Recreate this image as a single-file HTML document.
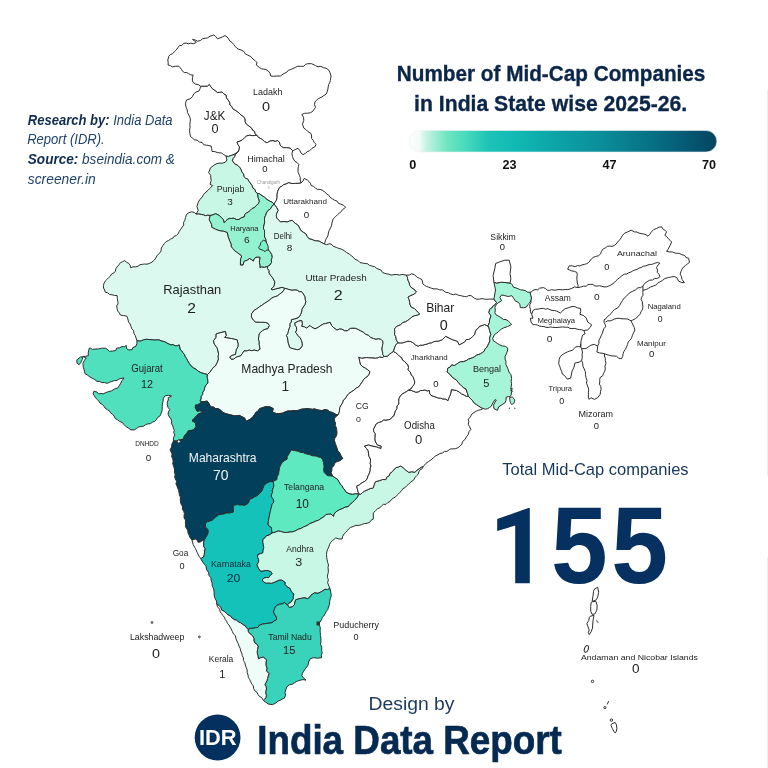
<!DOCTYPE html>
<html><head><meta charset="utf-8"><style>
html,body{margin:0;padding:0;background:#fff;}
body{width:768px;height:768px;overflow:hidden;position:relative;}
svg{position:absolute;left:0;top:0;will-change:transform;}
.st{stroke:#2b2b2b;stroke-width:1;stroke-linejoin:round;}
.ln{fill:none;stroke:#2b2b2b;stroke-width:1;stroke-linejoin:round;}
text{font-family:"Liberation Sans",sans-serif;}
</style></head><body>
<svg width="768" height="768" viewBox="0 0 768 768">
<defs><linearGradient id="g" x1="0" x2="1" y1="0" y2="0"><stop offset="0" stop-color="#ffffff"/><stop offset="0.035" stop-color="#f0fbf7"/><stop offset="0.055" stop-color="#c6f3e4"/><stop offset="0.123" stop-color="#6ee6c0"/><stop offset="0.188" stop-color="#45d9bd"/><stop offset="0.256" stop-color="#1ec3b6"/><stop offset="0.324" stop-color="#13bcb4"/><stop offset="0.39" stop-color="#10b2b0"/><stop offset="0.46" stop-color="#0da6a9"/><stop offset="0.62" stop-color="#0b8e9b"/><stop offset="0.75" stop-color="#08778a"/><stop offset="0.88" stop-color="#065e79"/><stop offset="1" stop-color="#05445f"/></linearGradient></defs>
<path class="st" fill="#ffffff" d="M200.6 86.3 L200.0 88.8 L198.8 91.2 L196.0 92.0 L193.8 93.8 L192.4 96.7 L190.0 98.8 L186.5 100.0 L185.7 102.4 L185.6 105.0 L186.2 107.5 L187.2 109.9 L187.5 112.5 L189.4 116.2 L190.4 118.9 L190.2 121.7 L189.8 124.6 L190.1 127.5 L189.4 130.3 L189.9 133.5 L190.5 136.6 L192.4 138.0 L194.1 139.7 L197.1 140.2 L199.5 142.0 L202.1 142.5 L203.9 144.8 L206.6 145.2 L208.9 145.6 L211.2 146.0 L211.6 148.7 L212.0 151.4 L214.8 151.6 L217.5 152.6 L221.4 153.0 L223.7 154.6 L226.1 156.1 L228.4 156.5 L230.7 155.6 L233.1 154.9 L236.2 153.4 L238.6 151.2 L239.3 149.0 L239.4 146.7 L237.9 144.5 L237.0 142.0 L240.0 141.2 L242.5 139.8 L244.5 137.8 L246.8 135.9 L249.7 135.2 L252.1 135.7 L254.6 135.5 L257.0 135.3 L255.1 133.9 L254.7 131.4 L252.6 130.2 L251.7 128.1 L249.1 126.1 L246.5 124.2 L245.2 121.8 L245.2 119.0 L243.6 116.5 L241.0 115.0 L239.2 113.1 L237.2 111.5 L235.0 110.0 L232.8 108.8 L231.8 106.5 L230.0 105.0 L229.7 102.2 L228.1 100.0 L226.5 97.8 L226.2 95.0 L223.8 93.8 L221.9 91.9 L219.7 92.3 L217.5 92.5 L215.1 90.5 L212.5 88.8 L210.8 86.7 L209.4 84.4 L207.5 86.0 L205.0 86.2 L202.8 86.1 L200.6 86.3Z"/>
<path class="st" fill="#ffffff" d="M200.6 86.3 L198.3 84.6 L195.5 84.1 L193.1 82.5 L192.3 80.1 L192.5 77.5 L193.1 75.0 L190.8 74.9 L188.8 73.8 L186.8 72.5 L184.4 72.5 L182.5 71.2 L181.4 69.3 L180.0 67.5 L178.8 66.2 L175.6 66.2 L172.5 66.9 L170.4 65.6 L168.1 65.0 L168.2 62.5 L167.8 60.0 L168.8 56.2 L170.3 54.5 L172.5 53.8 L174.3 51.8 L176.2 50.0 L177.8 47.8 L179.4 45.6 L181.9 45.4 L183.7 43.3 L186.2 43.1 L188.5 43.8 L190.9 43.1 L193.1 43.8 L196.2 42.5 L194.5 40.8 L192.5 39.4 L195.1 40.0 L197.5 41.2 L200.3 40.6 L202.5 38.8 L205.1 38.3 L207.7 37.8 L210.0 36.2 L213.8 35.0 L215.8 36.7 L217.5 38.8 L220.0 37.9 L222.5 36.9 L225.0 35.6 L227.2 37.0 L228.7 39.0 L230.0 41.2 L232.0 42.5 L233.6 44.4 L235.0 46.2 L236.7 48.1 L238.8 49.3 L241.2 50.0 L243.7 51.4 L245.3 53.9 L247.8 55.2 L250.8 56.6 L253.0 59.1 L255.1 60.6 L256.9 62.4 L256.3 65.0 L259.5 67.6 L261.5 68.7 L263.7 69.2 L266.0 69.5 L268.1 71.1 L270.0 72.8 L270.6 76.0 L273.6 76.3 L276.5 76.0 L280.4 76.0 L283.0 74.1 L286.9 72.1 L288.5 70.2 L290.8 69.5 L293.0 68.5 L295.2 67.5 L297.3 66.3 L300.6 66.3 L303.8 66.3 L305.4 64.5 L307.7 63.7 L311.6 63.7 L315.5 65.6 L318.0 66.8 L320.9 66.3 L323.3 67.6 L326.0 68.2 L328.4 69.7 L329.8 72.1 L331.1 76.0 L330.7 78.2 L330.3 80.4 L329.8 82.6 L328.7 84.6 L328.2 86.8 L327.9 89.1 L327.2 91.8 L326.0 94.3 L323.9 95.5 L322.0 96.9 L318.1 98.8 L316.3 100.3 L314.9 102.1 L314.6 104.8 L315.5 107.3 L314.2 109.2 L312.9 111.2 L310.5 112.7 L307.7 113.2 L304.6 113.3 L301.8 114.5 L303.5 117.2 L303.8 120.3 L302.5 124.2 L303.8 128.1 L305.9 129.6 L307.7 131.4 L311.0 133.5 L311.6 136.0 L311.6 138.5 L313.2 140.3 L314.2 142.4 L316.1 144.3 L314.8 146.9 L311.9 148.4 L309.6 150.8 L307.2 151.7 L305.3 153.4 L303.1 154.7 L300.9 152.9 L299.7 150.3 L297.9 148.2 L295.3 149.6 L292.7 150.8 L290.1 148.2 L286.2 147.6 L283.6 147.8 L281.3 146.5 L279.9 144.7 L279.4 142.2 L277.5 140.7 L275.2 141.4 L273.0 140.7 L269.8 141.1 L267.0 142.8 L264.6 141.7 L262.8 139.8 L260.5 138.5 L258.3 137.4 L257.0 135.3 L255.1 133.9 L254.7 131.4 L252.6 130.2 L251.7 128.1 L249.1 126.1 L246.5 124.2 L245.2 121.8 L245.2 119.0 L243.6 116.5 L241.0 115.0 L239.2 113.1 L237.2 111.5 L235.0 110.0 L232.8 108.8 L231.8 106.5 L230.0 105.0 L229.7 102.2 L228.1 100.0 L226.5 97.8 L226.2 95.0 L223.8 93.8 L221.9 91.9 L219.7 92.3 L217.5 92.5 L215.1 90.5 L212.5 88.8 L210.8 86.7 L209.4 84.4 L207.5 86.0 L205.0 86.2 L202.8 86.1 L200.6 86.3Z"/>
<path class="st" fill="#ffffff" d="M238.6 151.2 L239.3 149.0 L239.4 146.7 L237.9 144.5 L237.0 142.0 L240.0 141.2 L242.5 139.8 L244.5 137.8 L246.8 135.9 L249.7 135.2 L252.1 135.7 L254.6 135.5 L257.0 135.3 L258.3 137.4 L260.5 138.5 L262.8 139.8 L264.6 141.7 L267.0 142.8 L269.8 141.1 L273.0 140.7 L275.2 141.4 L277.5 140.7 L279.4 142.2 L279.9 144.7 L281.3 146.5 L283.6 147.8 L286.2 147.6 L290.1 148.2 L292.7 150.8 L291.9 153.7 L292.5 156.6 L293.4 159.0 L294.8 161.2 L297.0 162.5 L298.8 164.4 L298.3 166.7 L298.0 169.0 L298.1 172.3 L299.5 175.3 L300.2 177.6 L300.3 180.0 L301.0 183.0 L298.2 183.4 L295.3 183.4 L292.0 183.6 L288.8 182.7 L286.3 183.9 L283.6 184.7 L281.8 186.3 L279.7 187.3 L277.7 191.2 L277.1 194.4 L277.1 197.7 L276.4 200.3 L275.2 202.2 L274.0 204.0 L272.1 202.2 L269.8 201.2 L267.0 199.5 L264.6 197.3 L262.0 195.7 L259.5 193.8 L257.5 193.4 L255.6 192.0 L254.9 189.5 L252.9 188.2 L251.9 185.5 L250.3 183.0 L248.8 181.2 L247.7 179.1 L245.5 178.2 L243.8 176.5 L243.6 174.1 L241.9 172.2 L241.2 170.0 L240.0 167.8 L237.7 165.4 L234.7 163.9 L232.3 160.8 L233.1 158.4 L234.6 156.7 L235.3 154.4 L237.0 152.8 L238.6 151.2Z"/>
<path class="st" fill="#c8f7e6" d="M226.1 156.1 L226.9 160.0 L225.3 162.3 L222.2 163.2 L219.0 163.1 L216.1 163.9 L213.6 165.5 L210.5 167.8 L209.7 170.0 L208.6 172.6 L210.6 175.2 L210.8 177.8 L211.2 180.4 L210.0 184.3 L212.6 185.6 L210.0 188.2 L208.1 190.2 L206.0 192.1 L203.6 194.4 L202.1 197.3 L199.7 199.6 L198.2 202.5 L196.9 206.4 L198.2 210.3 L196.9 212.9 L196.3 214.2 L198.7 214.0 L201.1 214.4 L203.4 214.9 L205.5 215.7 L207.8 215.2 L210.0 215.5 L212.9 214.9 L215.6 213.7 L219.5 215.6 L221.3 217.7 L223.4 219.5 L224.1 222.8 L225.7 221.1 L227.3 219.5 L229.4 218.4 L231.7 218.5 L233.9 218.2 L236.3 219.5 L239.0 219.5 L241.4 217.7 L244.3 216.9 L244.8 214.6 L246.4 212.9 L248.6 212.0 L250.3 210.3 L252.0 208.6 L254.2 207.7 L256.8 205.1 L258.6 203.5 L259.4 201.2 L258.1 197.3 L257.5 193.4 L255.6 192.0 L254.9 189.5 L252.9 188.2 L251.9 185.5 L250.3 183.0 L248.8 181.2 L247.7 179.1 L245.5 178.2 L243.8 176.5 L243.6 174.1 L241.9 172.2 L241.2 170.0 L240.0 167.8 L237.7 165.4 L234.7 163.9 L232.3 160.8 L233.1 158.4 L234.6 156.7 L235.3 154.4 L237.0 152.8 L238.6 151.2 L236.2 153.4 L233.1 154.9 L230.7 155.6 L228.4 156.5 L226.1 156.1Z"/>
<path class="st" fill="#94f2d1" d="M257.5 193.4 L258.1 197.3 L259.4 201.2 L258.6 203.5 L256.8 205.1 L254.2 207.7 L252.0 208.6 L250.3 210.3 L248.6 212.0 L246.4 212.9 L244.8 214.6 L244.3 216.9 L241.4 217.7 L239.0 219.5 L236.3 219.5 L233.9 218.2 L231.7 218.5 L229.4 218.4 L227.3 219.5 L225.7 221.1 L224.1 222.8 L223.4 219.5 L221.3 217.7 L219.5 215.6 L215.6 213.7 L212.9 214.9 L210.0 215.5 L209.1 219.5 L210.4 222.1 L211.6 224.6 L211.7 227.3 L215.6 229.3 L218.1 230.3 L220.7 231.0 L223.4 231.2 L227.3 232.6 L228.0 236.5 L229.0 239.1 L230.0 241.7 L231.1 244.2 L231.2 246.9 L233.0 248.6 L234.5 250.7 L236.5 252.1 L239.1 254.0 L241.7 256.0 L240.7 258.5 L240.4 261.2 L240.4 265.1 L243.0 265.1 L244.3 261.2 L247.1 260.3 L249.5 258.6 L251.6 259.7 L253.4 261.2 L254.2 258.9 L256.0 257.3 L259.9 257.3 L259.6 259.9 L259.4 262.5 L259.9 265.1 L259.9 267.7 L261.2 267.0 L264.5 267.4 L267.7 266.4 L270.1 264.9 L271.6 262.5 L271.3 259.8 L272.3 257.3 L271.8 254.5 L270.3 252.1 L267.8 249.1 L266.5 246.2 L266.5 243.0 L265.8 239.1 L264.7 237.1 L264.5 234.8 L264.5 232.6 L264.5 230.4 L263.4 228.3 L263.8 226.0 L264.6 222.8 L264.5 219.5 L264.7 217.2 L265.8 215.2 L266.4 213.0 L267.9 210.6 L270.3 209.1 L272.0 206.4 L274.0 204.0 L272.1 202.2 L269.8 201.2 L267.0 199.5 L264.6 197.3 L262.0 195.7 L259.5 193.8 L257.5 193.4Z"/>
<path class="st" fill="#ffffff" d="M301.0 183.0 L303.0 181.0 L304.2 178.4 L307.3 180.0 L309.0 181.5 L310.4 183.3 L311.2 185.5 L313.6 186.3 L315.4 188.2 L317.5 189.4 L319.9 189.4 L322.2 190.2 L324.7 191.9 L326.9 194.0 L328.8 195.3 L330.0 197.2 L332.3 198.8 L334.7 200.3 L337.1 201.1 L338.5 203.4 L340.9 204.2 L343.6 205.3 L345.6 207.3 L342.5 209.7 L341.3 211.6 L339.5 213.0 L337.8 214.4 L335.5 216.7 L333.1 219.0 L332.1 222.1 L331.6 225.3 L330.6 227.9 L329.2 230.4 L328.4 233.1 L327.9 235.9 L326.4 238.3 L325.3 240.9 L324.5 244.0 L321.1 242.3 L319.0 241.1 L316.6 240.9 L314.3 240.6 L311.9 239.4 L309.2 238.9 L307.2 236.6 L305.9 233.9 L303.3 232.3 L300.8 230.5 L299.1 227.1 L297.8 225.0 L295.7 223.7 L293.8 222.2 L292.3 220.3 L289.7 221.0 L287.2 222.0 L284.0 221.5 L280.5 222.0 L278.7 220.1 L276.8 218.2 L276.2 215.6 L276.8 213.0 L278.1 210.4 L276.8 207.8 L275.4 205.9 L274.0 204.0 L275.2 202.2 L276.4 200.3 L277.1 197.7 L277.1 194.4 L277.7 191.2 L279.7 187.3 L281.8 186.3 L283.6 184.7 L286.3 183.9 L288.8 182.7 L292.0 183.6 L295.3 183.4 L298.2 183.4 L301.0 183.0Z"/>
<path class="st" fill="#dcf9ef" d="M196.3 214.2 L194.2 212.4 L191.6 211.8 L188.9 212.7 L186.5 214.4 L185.6 217.3 L184.8 220.3 L183.6 222.4 L183.7 225.1 L182.2 227.1 L180.6 229.3 L179.2 231.5 L178.0 233.9 L176.4 235.5 L174.2 236.2 L172.9 238.1 L170.6 239.1 L168.5 240.6 L166.2 241.5 L164.4 243.5 L162.8 245.7 L161.3 248.0 L161.1 250.8 L160.0 252.7 L158.3 254.2 L156.9 255.9 L155.7 258.1 L154.3 260.1 L152.0 262.1 L149.2 263.5 L147.0 264.2 L144.7 264.0 L142.5 264.3 L140.0 264.7 L138.0 266.2 L135.7 266.9 L133.1 266.8 L130.6 267.7 L130.2 265.4 L128.9 263.5 L126.7 262.3 L124.7 260.6 L122.6 261.7 L120.5 262.6 L118.9 264.8 L117.1 266.9 L115.8 268.8 L115.4 271.1 L113.9 273.0 L111.5 274.0 L110.3 276.2 L108.5 277.8 L106.9 279.5 L105.2 281.2 L104.0 283.3 L103.4 285.6 L103.5 288.0 L104.7 290.0 L105.2 292.2 L107.6 292.7 L109.5 294.4 L112.0 294.8 L114.5 295.4 L117.1 295.6 L117.3 298.6 L117.9 301.6 L118.0 303.9 L116.6 306.0 L117.1 308.3 L117.6 310.9 L119.3 312.9 L120.5 315.1 L123.7 315.6 L126.8 316.1 L127.9 319.0 L128.5 322.0 L130.1 324.0 L131.0 326.4 L131.8 328.8 L133.6 330.7 L133.9 333.3 L135.2 335.5 L136.1 338.0 L136.9 340.6 L139.3 341.1 L141.5 340.8 L143.7 339.8 L146.5 339.3 L149.4 339.6 L152.2 339.8 L154.4 340.0 L156.7 340.0 L158.9 339.8 L161.1 340.9 L163.4 341.4 L165.7 342.3 L168.2 343.7 L170.8 344.9 L173.1 344.7 L175.2 345.8 L177.5 345.7 L179.2 344.9 L180.1 349.1 L181.5 350.8 L182.7 352.6 L184.3 354.2 L185.1 356.6 L186.6 358.6 L187.7 360.9 L189.3 363.5 L191.1 366.0 L193.5 367.9 L196.2 369.4 L198.5 371.4 L201.2 372.8 L204.3 373.7 L207.5 374.5 L209.9 372.3 L211.8 369.6 L213.2 367.6 L215.2 366.2 L216.7 363.8 L217.8 361.1 L218.5 358.9 L218.1 356.5 L218.6 354.3 L218.2 352.0 L217.7 349.7 L216.9 347.5 L214.4 344.2 L213.5 340.8 L216.1 337.4 L216.1 334.0 L218.6 333.2 L222.0 332.3 L225.4 331.5 L226.2 335.7 L224.5 337.4 L228.8 338.2 L231.4 338.5 L233.9 339.1 L237.2 339.9 L238.1 344.2 L237.9 346.9 L236.4 349.2 L235.8 351.7 L235.5 354.3 L232.2 355.2 L229.6 356.9 L231.3 359.4 L233.7 359.2 L235.5 357.7 L237.9 356.5 L240.6 356.0 L242.4 353.5 L244.0 350.9 L246.6 351.0 L249.1 350.1 L251.6 350.7 L254.2 350.1 L257.5 350.9 L260.1 349.2 L259.7 346.7 L259.2 344.2 L259.3 341.6 L258.4 339.1 L259.0 336.6 L259.2 334.0 L260.7 332.1 L262.6 330.6 L265.0 329.3 L267.7 328.9 L269.4 325.5 L267.7 323.0 L265.2 322.4 L262.6 322.2 L260.4 322.3 L258.1 322.0 L255.9 322.2 L254.0 320.7 L252.5 318.8 L251.4 316.4 L251.6 313.7 L254.2 310.3 L256.9 308.8 L259.2 306.9 L261.8 305.3 L264.3 303.5 L266.9 301.9 L269.4 300.2 L271.7 298.2 L274.5 296.8 L277.3 296.0 L279.6 294.2 L282.9 291.7 L285.0 288.3 L282.0 287.3 L278.1 288.3 L275.4 288.9 L272.9 289.8 L271.0 289.2 L272.7 287.7 L274.2 285.9 L274.9 282.0 L272.9 278.1 L270.8 275.6 L269.0 272.9 L269.2 270.6 L267.5 268.7 L267.7 266.4 L264.5 267.4 L261.2 267.0 L259.9 267.7 L259.9 265.1 L259.4 262.5 L259.6 259.9 L259.9 257.3 L256.0 257.3 L254.2 258.9 L253.4 261.2 L251.6 259.7 L249.5 258.6 L247.1 260.3 L244.3 261.2 L243.0 265.1 L240.4 265.1 L240.4 261.2 L240.7 258.5 L241.7 256.0 L239.1 254.0 L236.5 252.1 L234.5 250.7 L233.0 248.6 L231.2 246.9 L231.1 244.2 L230.0 241.7 L229.0 239.1 L228.0 236.5 L227.3 232.6 L223.4 231.2 L220.7 231.0 L218.1 230.3 L215.6 229.3 L211.7 227.3 L211.6 224.6 L210.4 222.1 L209.1 219.5 L210.0 215.5 L207.8 215.2 L205.5 215.7 L203.4 214.9 L201.1 214.4 L198.7 214.0 L196.3 214.2Z"/>
<path class="st" fill="#dcf9ef" d="M274.0 204.0 L275.4 205.9 L276.8 207.8 L278.1 210.4 L276.8 213.0 L276.2 215.6 L276.8 218.2 L278.7 220.1 L280.5 222.0 L284.0 221.5 L287.2 222.0 L289.7 221.0 L292.3 220.3 L293.8 222.2 L295.7 223.7 L297.8 225.0 L299.1 227.1 L300.8 230.5 L303.3 232.3 L305.9 233.9 L307.2 236.6 L309.2 238.9 L311.9 239.4 L314.3 240.6 L316.6 240.9 L319.0 241.1 L321.1 242.3 L324.5 244.0 L326.7 244.7 L329.0 243.8 L331.2 244.0 L333.3 246.3 L336.3 247.4 L338.8 248.4 L341.4 249.1 L344.1 250.6 L346.5 252.5 L349.2 254.0 L351.6 255.9 L353.4 257.4 L354.9 259.2 L357.8 260.4 L360.0 262.6 L362.6 263.0 L365.1 263.5 L367.6 263.8 L369.5 265.4 L371.9 266.0 L374.7 266.7 L376.9 268.6 L380.9 270.0 L382.6 272.5 L384.7 273.3 L386.8 273.9 L389.0 274.2 L391.1 275.1 L393.9 274.6 L396.8 274.5 L399.6 275.1 L401.8 274.4 L404.1 274.8 L406.3 275.1 L407.5 277.5 L408.0 280.2 L409.2 282.6 L409.7 285.2 L411.0 287.3 L413.1 288.6 L415.0 290.1 L416.5 292.0 L414.8 293.7 L412.6 294.9 L410.2 295.9 L408.0 297.1 L409.1 299.6 L409.7 302.2 L410.1 304.8 L411.4 307.2 L414.3 308.4 L416.5 310.6 L418.1 312.4 L419.9 314.0 L417.5 315.2 L414.8 315.7 L411.9 316.9 L409.7 319.1 L407.6 320.5 L405.4 321.9 L402.9 322.5 L400.7 324.7 L397.9 325.9 L395.8 327.1 L394.5 329.2 L394.9 331.8 L394.5 334.3 L395.8 336.7 L396.2 339.4 L397.9 342.8 L395.7 345.0 L394.5 347.9 L393.5 351.5 L391.4 352.9 L389.3 354.3 L387.7 356.3 L384.3 356.5 L382.6 354.6 L382.6 352.3 L381.9 350.2 L381.8 347.9 L382.4 345.7 L382.8 343.4 L382.6 341.1 L380.9 339.4 L378.4 338.8 L375.9 339.4 L373.4 338.5 L370.8 337.7 L368.6 335.4 L365.7 334.3 L363.4 332.3 L360.6 330.9 L358.1 329.5 L355.5 328.4 L353.0 328.3 L350.5 328.4 L347.1 330.9 L344.3 330.7 L342.0 329.2 L339.4 329.1 L336.9 330.1 L333.5 327.5 L331.4 325.3 L330.2 322.5 L328.0 322.9 L325.8 323.5 L323.6 323.9 L320.9 325.4 L318.5 327.2 L315.1 328.9 L311.7 327.2 L310.0 325.5 L306.6 328.1 L304.3 326.8 L301.6 326.4 L302.4 323.9 L301.6 320.5 L298.2 321.3 L294.8 323.0 L295.2 325.3 L296.5 327.2 L296.7 329.9 L295.6 332.3 L298.2 335.7 L300.3 338.0 L301.6 340.8 L302.3 343.3 L302.4 345.9 L299.9 349.2 L297.4 349.7 L294.8 349.2 L292.2 348.6 L289.7 347.5 L288.8 345.0 L288.0 342.5 L287.7 340.2 L287.5 337.8 L286.3 335.7 L287.6 333.6 L288.3 331.3 L288.9 328.9 L290.0 326.5 L289.7 323.9 L291.2 322.0 L291.4 319.6 L294.8 318.8 L297.0 318.2 L299.0 317.1 L300.5 314.6 L301.6 312.0 L301.9 309.3 L303.3 306.9 L304.9 304.5 L305.8 301.8 L305.1 299.3 L304.9 296.8 L303.4 294.1 L301.6 291.7 L299.2 291.7 L297.2 290.2 L294.8 290.0 L291.8 290.3 L288.9 289.5 L285.0 288.3 L282.0 287.3 L278.1 288.3 L275.4 288.9 L272.9 289.8 L271.0 289.2 L272.7 287.7 L274.2 285.9 L274.9 282.0 L272.9 278.1 L270.8 275.6 L269.0 272.9 L269.2 270.6 L267.5 268.7 L267.7 266.4 L270.1 264.9 L271.6 262.5 L271.3 259.8 L272.3 257.3 L271.8 254.5 L270.3 252.1 L267.8 249.1 L266.5 246.2 L266.5 243.0 L265.8 239.1 L264.7 237.1 L264.5 234.8 L264.5 232.6 L264.5 230.4 L263.4 228.3 L263.8 226.0 L264.6 222.8 L264.5 219.5 L264.7 217.2 L265.8 215.2 L266.4 213.0 L267.9 210.6 L270.3 209.1 L272.0 206.4 L274.0 204.0Z"/>
<path class="st" fill="#50e0be" d="M136.9 340.6 L136.9 343.4 L136.0 346.1 L132.6 347.8 L132.0 349.8 L128.2 349.8 L126.7 348.6 L126.3 345.5 L124.3 346.7 L122.0 346.6 L119.4 347.8 L116.5 348.2 L115.8 350.5 L112.6 351.0 L109.5 351.3 L107.9 349.8 L105.6 348.2 L101.7 348.2 L98.6 348.9 L95.4 349.0 L92.3 349.4 L90.8 348.2 L89.2 348.2 L88.8 350.2 L88.2 352.9 L88.4 355.6 L85.3 356.4 L82.9 356.4 L86.1 358.0 L84.5 360.3 L82.9 363.4 L83.3 367.3 L84.5 371.2 L84.9 373.6 L87.6 375.2 L89.8 376.9 L92.3 378.3 L94.8 379.6 L97.0 381.4 L99.5 381.4 L101.7 382.6 L104.5 382.5 L107.2 383.4 L109.5 382.2 L111.9 381.5 L114.2 380.6 L116.8 380.5 L118.9 379.1 L122.0 378.3 L124.0 377.9 L122.0 380.6 L120.4 383.8 L119.2 385.7 L118.1 387.7 L114.2 389.2 L111.6 390.8 L108.7 391.6 L105.9 392.5 L103.2 393.9 L100.9 393.4 L98.6 393.9 L97.0 392.0 L93.9 391.2 L93.1 393.9 L94.4 395.7 L95.4 397.7 L97.1 399.4 L98.8 401.1 L100.1 403.2 L102.3 404.4 L103.9 406.2 L105.2 408.2 L107.2 409.6 L109.3 410.8 L110.6 412.9 L112.6 414.3 L114.1 416.2 L115.2 418.5 L117.4 419.7 L119.6 421.5 L122.4 422.5 L124.2 424.8 L126.2 426.8 L128.7 428.2 L130.9 429.9 L134.3 429.9 L136.5 428.6 L138.5 427.0 L141.1 426.5 L143.6 426.3 L145.6 424.6 L147.9 423.9 L150.4 423.7 L152.4 422.2 L154.6 421.4 L156.4 419.8 L157.5 417.5 L159.7 416.3 L160.8 414.2 L161.7 411.9 L162.2 409.6 L162.2 406.7 L162.4 403.9 L163.1 401.1 L163.3 398.3 L164.8 396.0 L168.2 395.2 L171.6 396.0 L168.2 397.7 L168.3 400.0 L167.2 402.2 L167.3 404.5 L168.0 407.4 L169.9 409.6 L168.3 411.9 L168.2 414.6 L169.3 416.9 L171.0 418.9 L171.6 421.4 L171.6 423.8 L172.9 425.9 L173.3 428.2 L174.3 430.3 L173.7 432.8 L174.9 434.9 L173.6 437.3 L173.3 440.0 L173.5 441.0 L176.6 441.0 L180.2 439.9 L183.5 439.1 L184.1 436.8 L185.2 434.8 L186.9 433.2 L188.6 430.6 L191.2 430.4 L193.7 429.8 L196.2 426.4 L195.4 423.0 L192.0 420.5 L193.9 419.0 L195.4 417.1 L197.0 415.3 L198.8 413.7 L201.4 413.0 L203.9 412.0 L202.2 411.2 L199.6 410.7 L197.1 411.2 L195.4 407.8 L195.4 405.2 L197.7 404.9 L199.6 403.5 L201.6 402.3 L203.9 401.8 L200.0 401.0 L201.2 398.9 L201.2 396.5 L202.7 394.6 L202.9 392.2 L204.3 390.3 L204.6 388.0 L205.9 385.2 L208.0 382.9 L207.9 380.1 L207.2 377.3 L207.5 374.5 L204.3 373.7 L201.2 372.8 L198.5 371.4 L196.2 369.4 L193.5 367.9 L191.1 366.0 L189.3 363.5 L187.7 360.9 L186.6 358.6 L185.1 356.6 L184.3 354.2 L182.7 352.6 L181.5 350.8 L180.1 349.1 L179.2 344.9 L177.5 345.7 L175.2 345.8 L173.1 344.7 L170.8 344.9 L168.2 343.7 L165.7 342.3 L163.4 341.4 L161.1 340.9 L158.9 339.8 L156.7 340.0 L154.4 340.0 L152.2 339.8 L149.4 339.6 L146.5 339.3 L143.7 339.8 L141.5 340.8 L139.3 341.1 L136.9 340.6Z"/>
<path class="st" fill="#effdf8" d="M285.0 288.3 L282.9 291.7 L279.6 294.2 L277.3 296.0 L274.5 296.8 L271.7 298.2 L269.4 300.2 L266.9 301.9 L264.3 303.5 L261.8 305.3 L259.2 306.9 L256.9 308.8 L254.2 310.3 L251.6 313.7 L251.4 316.4 L252.5 318.8 L254.0 320.7 L255.9 322.2 L258.1 322.0 L260.4 322.3 L262.6 322.2 L265.2 322.4 L267.7 323.0 L269.4 325.5 L267.7 328.9 L265.0 329.3 L262.6 330.6 L260.7 332.1 L259.2 334.0 L259.0 336.6 L258.4 339.1 L259.3 341.6 L259.2 344.2 L259.7 346.7 L260.1 349.2 L257.5 350.9 L254.2 350.1 L251.6 350.7 L249.1 350.1 L246.6 351.0 L244.0 350.9 L242.4 353.5 L240.6 356.0 L237.9 356.5 L235.5 357.7 L233.7 359.2 L231.3 359.4 L229.6 356.9 L232.2 355.2 L235.5 354.3 L235.8 351.7 L236.4 349.2 L237.9 346.9 L238.1 344.2 L237.2 339.9 L233.9 339.1 L231.4 338.5 L228.8 338.2 L224.5 337.4 L226.2 335.7 L225.4 331.5 L222.0 332.3 L218.6 333.2 L216.1 334.0 L216.1 337.4 L213.5 340.8 L214.4 344.2 L216.9 347.5 L217.7 349.7 L218.2 352.0 L218.6 354.3 L218.1 356.5 L218.5 358.9 L217.8 361.1 L216.7 363.8 L215.2 366.2 L213.2 367.6 L211.8 369.6 L209.9 372.3 L207.5 374.5 L207.2 377.3 L207.9 380.1 L208.0 382.9 L205.9 385.2 L204.6 388.0 L204.3 390.3 L202.9 392.2 L202.7 394.6 L201.2 396.5 L201.2 398.9 L200.0 401.0 L203.9 401.8 L207.2 401.0 L208.9 403.5 L210.6 406.9 L213.4 407.1 L215.7 408.6 L218.5 408.8 L220.8 410.3 L223.0 412.5 L225.9 413.7 L228.1 414.3 L230.4 414.8 L232.6 415.4 L234.9 415.9 L237.1 415.8 L239.4 415.4 L241.9 416.7 L244.5 417.9 L246.2 421.3 L249.6 419.6 L252.9 417.1 L254.5 414.5 L256.3 412.0 L258.4 410.7 L259.7 408.6 L262.3 407.8 L264.8 406.9 L267.4 406.7 L269.9 406.9 L273.2 408.6 L272.4 412.0 L274.5 412.9 L276.6 413.7 L280.0 413.5 L282.7 413.1 L285.1 412.0 L287.7 411.0 L290.5 411.0 L293.3 410.7 L296.1 410.8 L298.9 410.2 L301.7 409.2 L304.5 408.9 L307.4 408.5 L309.9 409.0 L312.5 409.3 L314.8 408.9 L317.0 409.9 L319.2 410.2 L322.0 410.6 L324.9 409.6 L327.7 410.2 L330.0 411.9 L332.8 412.7 L335.3 414.1 L338.0 415.0 L339.1 412.7 L339.6 410.2 L339.8 407.5 L341.2 405.1 L342.7 402.7 L343.5 400.0 L345.4 398.6 L346.9 396.0 L348.8 393.6 L351.3 391.9 L353.9 390.2 L356.2 388.2 L358.9 386.8 L360.6 384.3 L362.3 381.7 L363.6 379.6 L365.3 377.9 L367.4 376.6 L369.1 374.3 L369.9 371.6 L367.8 369.8 L365.7 368.2 L363.0 366.8 L360.6 364.8 L359.8 361.4 L358.9 357.2 L361.3 358.3 L364.0 358.0 L366.3 357.6 L368.5 357.8 L370.8 358.0 L373.0 358.0 L375.3 358.3 L377.5 358.0 L379.7 357.0 L382.2 357.6 L384.3 356.5 L382.6 354.6 L382.6 352.3 L381.9 350.2 L381.8 347.9 L382.4 345.7 L382.8 343.4 L382.6 341.1 L380.9 339.4 L378.4 338.8 L375.9 339.4 L373.4 338.5 L370.8 337.7 L368.6 335.4 L365.7 334.3 L363.4 332.3 L360.6 330.9 L358.1 329.5 L355.5 328.4 L353.0 328.3 L350.5 328.4 L347.1 330.9 L344.3 330.7 L342.0 329.2 L339.4 329.1 L336.9 330.1 L333.5 327.5 L331.4 325.3 L330.2 322.5 L328.0 322.9 L325.8 323.5 L323.6 323.9 L320.9 325.4 L318.5 327.2 L315.1 328.9 L311.7 327.2 L310.0 325.5 L306.6 328.1 L304.3 326.8 L301.6 326.4 L302.4 323.9 L301.6 320.5 L298.2 321.3 L294.8 323.0 L295.2 325.3 L296.5 327.2 L296.7 329.9 L295.6 332.3 L298.2 335.7 L300.3 338.0 L301.6 340.8 L302.3 343.3 L302.4 345.9 L299.9 349.2 L297.4 349.7 L294.8 349.2 L292.2 348.6 L289.7 347.5 L288.8 345.0 L288.0 342.5 L287.7 340.2 L287.5 337.8 L286.3 335.7 L287.6 333.6 L288.3 331.3 L288.9 328.9 L290.0 326.5 L289.7 323.9 L291.2 322.0 L291.4 319.6 L294.8 318.8 L297.0 318.2 L299.0 317.1 L300.5 314.6 L301.6 312.0 L301.9 309.3 L303.3 306.9 L304.9 304.5 L305.8 301.8 L305.1 299.3 L304.9 296.8 L303.4 294.1 L301.6 291.7 L299.2 291.7 L297.2 290.2 L294.8 290.0 L291.8 290.3 L288.9 289.5 L285.0 288.3Z"/>
<path class="st" fill="#023f5a" d="M203.9 401.8 L201.6 402.3 L199.6 403.5 L197.7 404.9 L195.4 405.2 L195.4 407.8 L197.1 411.2 L199.6 410.7 L202.2 411.2 L203.9 412.0 L201.4 413.0 L198.8 413.7 L197.0 415.3 L195.4 417.1 L193.9 419.0 L192.0 420.5 L195.4 423.0 L196.2 426.4 L193.7 429.8 L191.2 430.4 L188.6 430.6 L186.9 433.2 L185.2 434.8 L184.1 436.8 L183.5 439.1 L180.2 439.9 L176.6 441.0 L173.5 441.0 L171.9 444.0 L171.6 446.9 L170.2 449.5 L171.0 451.8 L172.1 454.0 L171.6 456.6 L172.7 458.8 L173.2 461.0 L172.7 463.4 L173.4 465.6 L174.1 467.8 L174.6 470.1 L174.4 472.4 L175.2 474.6 L174.7 477.0 L175.4 479.2 L176.7 481.3 L175.9 483.8 L176.9 485.9 L177.7 488.1 L178.6 490.3 L179.0 492.6 L179.4 494.9 L180.4 497.1 L180.3 499.5 L180.5 502.0 L181.2 504.4 L182.5 506.6 L182.4 509.2 L183.7 511.4 L184.4 513.5 L184.0 515.8 L184.1 518.0 L185.5 520.1 L185.4 522.3 L185.6 524.5 L185.5 526.8 L186.8 528.8 L187.8 530.8 L188.0 533.0 L189.1 535.2 L190.0 537.5 L192.0 540.2 L195.2 539.0 L197.6 540.5 L197.9 542.3 L200.2 542.0 L202.6 540.5 L204.3 539.9 L206.1 537.0 L207.8 534.1 L208.4 530.5 L207.3 528.8 L205.5 527.0 L205.5 523.5 L207.3 521.8 L209.6 521.2 L212.5 520.0 L215.5 517.2 L218.9 514.7 L221.5 514.4 L224.0 513.9 L226.5 513.0 L229.1 513.0 L233.3 512.2 L233.3 509.9 L233.3 507.7 L233.3 505.4 L237.5 504.5 L239.7 505.0 L242.1 504.9 L244.3 505.4 L247.7 503.7 L249.0 501.8 L249.4 499.5 L252.1 498.4 L254.5 496.9 L257.3 495.6 L259.6 493.5 L261.7 491.3 L262.9 488.5 L264.0 485.6 L266.3 483.4 L269.7 481.7 L273.0 481.5 L276.9 479.6 L277.1 476.8 L278.6 474.5 L278.8 472.2 L279.2 470.0 L279.5 467.7 L280.7 465.1 L282.0 462.6 L284.4 460.7 L287.1 459.2 L287.3 456.5 L288.8 454.2 L290.0 452.0 L291.3 449.9 L295.5 450.8 L298.2 451.3 L300.6 452.5 L303.0 452.4 L305.1 453.6 L307.4 454.2 L309.7 454.6 L311.8 455.7 L314.2 455.9 L316.5 456.2 L318.6 457.1 L320.9 457.5 L322.7 459.8 L323.5 462.6 L323.8 464.9 L324.1 467.1 L323.5 469.4 L324.1 472.3 L326.0 474.5 L328.1 475.7 L330.5 475.9 L332.8 476.2 L331.1 472.8 L331.9 470.3 L331.9 467.7 L333.8 466.0 L334.5 463.5 L336.8 461.8 L339.6 460.9 L342.9 458.4 L341.2 455.9 L339.9 453.1 L337.9 450.8 L337.1 448.2 L336.2 445.7 L335.3 443.2 L334.5 440.6 L334.8 438.2 L336.2 436.2 L337.0 433.9 L336.9 431.0 L336.5 428.1 L335.3 425.4 L335.5 423.1 L334.6 420.9 L334.5 418.6 L336.0 416.5 L338.0 415.0 L335.3 414.1 L332.8 412.7 L330.0 411.9 L327.7 410.2 L324.9 409.6 L322.0 410.6 L319.2 410.2 L317.0 409.9 L314.8 408.9 L312.5 409.3 L309.9 409.0 L307.4 408.5 L304.5 408.9 L301.7 409.2 L298.9 410.2 L296.1 410.8 L293.3 410.7 L290.5 411.0 L287.7 411.0 L285.1 412.0 L282.7 413.1 L280.0 413.5 L276.6 413.7 L274.5 412.9 L272.4 412.0 L273.2 408.6 L269.9 406.9 L267.4 406.7 L264.8 406.9 L262.3 407.8 L259.7 408.6 L258.4 410.7 L256.3 412.0 L254.5 414.5 L252.9 417.1 L249.6 419.6 L246.2 421.3 L244.5 417.9 L241.9 416.7 L239.4 415.4 L237.1 415.8 L234.9 415.9 L232.6 415.4 L230.4 414.8 L228.1 414.3 L225.9 413.7 L223.0 412.5 L220.8 410.3 L218.5 408.8 L215.7 408.6 L213.4 407.1 L210.6 406.9 L208.9 403.5 L207.2 401.0 L203.9 401.8Z"/>
<path class="st" fill="#ffffff" d="M192.0 540.2 L195.2 539.0 L197.6 540.5 L197.9 542.3 L200.2 542.0 L202.6 540.5 L204.3 539.9 L203.7 542.3 L203.7 546.4 L205.2 548.7 L204.6 551.0 L204.3 554.6 L203.7 556.9 L201.4 558.1 L200.8 558.7 L199.1 556.3 L197.3 552.8 L195.5 548.7 L193.2 544.6 L192.0 540.2Z"/>
<path class="st" fill="#14c2ba" d="M200.8 558.7 L201.4 558.1 L203.7 556.9 L204.3 554.6 L204.6 551.0 L205.2 548.7 L203.7 546.4 L203.7 542.3 L204.3 539.9 L206.1 537.0 L207.8 534.1 L208.4 530.5 L207.3 528.8 L205.5 527.0 L205.5 523.5 L207.3 521.8 L209.6 521.2 L212.5 520.0 L215.5 517.2 L218.9 514.7 L221.5 514.4 L224.0 513.9 L226.5 513.0 L229.1 513.0 L233.3 512.2 L233.3 509.9 L233.3 507.7 L233.3 505.4 L237.5 504.5 L239.7 505.0 L242.1 504.9 L244.3 505.4 L247.7 503.7 L249.0 501.8 L249.4 499.5 L252.1 498.4 L254.5 496.9 L257.3 495.6 L259.6 493.5 L261.7 491.3 L262.9 488.5 L264.0 485.6 L266.3 483.4 L269.7 481.7 L273.0 481.5 L273.9 485.1 L273.4 487.8 L272.2 490.2 L272.6 492.5 L271.4 494.6 L271.4 496.9 L273.3 499.1 L273.9 502.0 L272.1 504.3 L271.4 507.1 L270.8 509.4 L270.3 511.6 L269.7 513.9 L269.3 516.4 L268.8 518.9 L268.3 521.5 L268.0 524.0 L269.2 526.2 L271.4 527.4 L271.7 530.2 L272.2 533.0 L269.5 534.9 L266.3 535.9 L264.9 537.9 L262.9 539.2 L262.8 542.1 L263.3 544.9 L263.8 547.7 L263.1 550.2 L262.9 552.8 L260.4 553.7 L257.9 554.5 L257.6 557.2 L258.7 559.6 L258.5 562.3 L257.0 564.6 L257.8 566.8 L258.8 568.8 L260.5 571.1 L262.9 571.0 L265.2 570.5 L268.3 570.6 L271.1 571.7 L272.3 574.0 L270.2 575.4 L268.8 577.6 L266.4 577.5 L264.0 578.0 L262.0 580.0 L264.0 582.3 L266.3 583.2 L268.7 582.9 L271.1 583.4 L274.1 582.4 L277.0 581.1 L279.2 580.0 L281.6 579.9 L285.2 582.3 L285.2 584.6 L287.2 586.8 L289.8 588.1 L291.0 590.5 L292.2 592.5 L294.0 594.0 L293.3 596.3 L293.4 598.7 L291.0 602.2 L288.9 603.2 L287.5 605.0 L284.4 602.5 L282.3 604.0 L279.7 604.1 L277.1 605.3 L275.0 607.2 L274.4 609.6 L273.4 611.9 L275.0 615.0 L276.4 617.1 L276.6 619.7 L274.1 621.0 L271.9 622.8 L268.7 623.2 L265.6 623.6 L262.4 624.1 L259.4 625.2 L257.8 627.5 L255.4 627.7 L253.1 628.3 L250.4 628.4 L248.0 629.5 L246.5 627.8 L245.3 625.9 L242.8 624.5 L240.6 622.8 L238.4 622.0 L236.7 620.2 L234.4 619.7 L232.2 618.3 L230.6 616.1 L228.1 615.0 L226.2 613.2 L224.3 611.4 L221.9 610.3 L220.8 607.7 L219.1 605.6 L216.8 604.0 L216.5 601.1 L215.1 598.6 L214.2 595.8 L214.1 592.9 L213.9 590.0 L213.1 587.7 L212.1 585.5 L212.2 583.0 L211.0 580.0 L210.9 577.5 L208.9 575.6 L208.8 573.1 L207.6 571.0 L206.3 569.0 L206.1 566.4 L204.5 564.5 L202.0 561.0 L200.8 558.7Z"/>
<path class="st" fill="#5ee9c0" d="M332.8 476.2 L330.5 475.9 L328.1 475.7 L326.0 474.5 L324.1 472.3 L323.5 469.4 L324.1 467.1 L323.8 464.9 L323.5 462.6 L322.7 459.8 L320.9 457.5 L318.6 457.1 L316.5 456.2 L314.2 455.9 L311.8 455.7 L309.7 454.6 L307.4 454.2 L305.1 453.6 L303.0 452.4 L300.6 452.5 L298.2 451.3 L295.5 450.8 L291.3 449.9 L290.0 452.0 L288.8 454.2 L287.3 456.5 L287.1 459.2 L284.4 460.7 L282.0 462.6 L280.7 465.1 L279.5 467.7 L279.2 470.0 L278.8 472.2 L278.6 474.5 L277.1 476.8 L276.9 479.6 L273.0 481.5 L273.9 485.1 L273.4 487.8 L272.2 490.2 L272.6 492.5 L271.4 494.6 L271.4 496.9 L273.3 499.1 L273.9 502.0 L272.1 504.3 L271.4 507.1 L270.8 509.4 L270.3 511.6 L269.7 513.9 L269.3 516.4 L268.8 518.9 L268.3 521.5 L268.0 524.0 L269.2 526.2 L271.4 527.4 L271.7 530.2 L272.2 533.0 L275.3 532.2 L278.2 531.0 L280.5 531.4 L282.6 532.1 L284.9 532.5 L287.5 532.4 L290.0 532.0 L293.1 531.8 L296.0 530.5 L298.4 529.2 L301.0 528.5 L303.4 527.0 L306.0 526.0 L308.1 524.9 L310.0 523.5 L313.1 522.4 L316.0 521.0 L318.7 520.2 L321.0 518.5 L323.8 516.9 L326.0 514.5 L328.5 514.3 L331.0 514.0 L333.5 516.5 L334.2 514.0 L335.8 512.0 L337.8 510.7 L339.8 509.5 L342.1 508.8 L345.0 507.2 L348.3 506.7 L350.1 504.3 L352.5 502.5 L354.5 500.3 L356.7 498.3 L358.0 496.2 L359.0 494.0 L355.7 493.6 L352.5 494.2 L349.2 493.6 L346.2 492.1 L344.9 490.0 L343.2 488.1 L342.1 485.8 L340.3 484.0 L339.1 481.8 L337.9 479.6 L335.4 477.8 L332.8 476.2Z"/>
<path class="st" fill="#c8f7e6" d="M359.0 494.0 L358.0 496.2 L356.7 498.3 L354.5 500.3 L352.5 502.5 L350.1 504.3 L348.3 506.7 L345.0 507.2 L342.1 508.8 L339.8 509.5 L337.8 510.7 L335.8 512.0 L334.2 514.0 L333.5 516.5 L331.0 514.0 L328.5 514.3 L326.0 514.5 L323.8 516.9 L321.0 518.5 L318.7 520.2 L316.0 521.0 L313.1 522.4 L310.0 523.5 L308.1 524.9 L306.0 526.0 L303.4 527.0 L301.0 528.5 L298.4 529.2 L296.0 530.5 L293.1 531.8 L290.0 532.0 L287.5 532.4 L284.9 532.5 L282.6 532.1 L280.5 531.4 L278.2 531.0 L275.3 532.2 L272.2 533.0 L269.5 534.9 L266.3 535.9 L264.9 537.9 L262.9 539.2 L262.8 542.1 L263.3 544.9 L263.8 547.7 L263.1 550.2 L262.9 552.8 L260.4 553.7 L257.9 554.5 L257.6 557.2 L258.7 559.6 L258.5 562.3 L257.0 564.6 L257.8 566.8 L258.8 568.8 L260.5 571.1 L262.9 571.0 L265.2 570.5 L268.3 570.6 L271.1 571.7 L272.3 574.0 L270.2 575.4 L268.8 577.6 L266.4 577.5 L264.0 578.0 L262.0 580.0 L264.0 582.3 L266.3 583.2 L268.7 582.9 L271.1 583.4 L274.1 582.4 L277.0 581.1 L279.2 580.0 L281.6 579.9 L285.2 582.3 L285.2 584.6 L287.2 586.8 L289.8 588.1 L291.0 590.5 L292.2 592.5 L294.0 594.0 L293.3 596.3 L293.4 598.7 L291.0 602.2 L288.9 603.2 L287.5 605.0 L289.3 607.5 L292.2 606.9 L294.5 604.5 L295.0 602.1 L295.7 599.8 L299.2 598.7 L302.7 598.1 L305.1 597.9 L307.4 598.7 L309.6 597.4 L311.0 595.2 L314.5 592.8 L318.0 593.4 L321.5 591.6 L325.0 589.3 L327.6 589.5 L330.0 588.5 L328.5 585.0 L327.6 582.6 L328.4 579.9 L327.5 577.5 L327.6 575.0 L328.3 572.5 L328.3 570.0 L328.0 567.5 L328.5 565.0 L327.7 562.5 L327.1 559.9 L326.7 557.3 L326.5 554.6 L326.8 551.9 L327.6 549.3 L328.9 546.8 L329.6 544.2 L330.9 542.3 L332.3 540.7 L334.1 539.3 L335.8 537.9 L338.9 539.0 L342.1 539.0 L342.7 536.2 L344.2 533.8 L345.9 532.3 L347.3 530.7 L348.7 528.9 L350.4 527.5 L353.1 526.5 L355.8 525.4 L358.8 525.4 L361.5 524.7 L364.2 523.6 L367.1 523.3 L369.5 522.4 L371.0 520.3 L373.3 519.2 L373.3 516.0 L373.3 512.9 L375.4 510.9 L377.5 508.8 L379.8 507.8 L381.5 506.0 L383.4 504.4 L386.1 504.3 L387.9 502.5 L390.0 501.6 L391.3 499.7 L393.0 498.3 L395.0 497.2 L396.7 495.7 L398.3 494.2 L399.8 492.4 L401.6 490.8 L402.9 488.7 L405.1 487.6 L406.7 485.8 L408.5 484.3 L410.1 482.6 L412.0 481.2 L413.9 479.7 L415.0 477.5 L416.5 475.8 L418.2 474.2 L418.8 471.8 L420.1 469.8 L422.3 468.6 L423.3 466.5 L421.2 467.1 L419.1 468.8 L416.8 470.2 L415.0 472.3 L411.9 471.7 L408.8 472.3 L406.7 470.8 L404.6 469.2 L402.8 467.2 L400.4 466.0 L398.3 467.0 L396.1 467.7 L394.2 469.2 L392.4 471.6 L390.0 473.3 L389.1 475.8 L386.7 477.1 L385.8 479.6 L382.6 479.5 L379.6 480.6 L375.4 481.7 L374.1 484.7 L373.3 487.9 L370.1 488.6 L367.1 490.0 L364.7 491.0 L362.6 492.4 L360.8 494.2 L359.0 494.0Z"/>
<path class="st" fill="#38d3ba" d="M248.0 629.5 L250.4 628.4 L253.1 628.3 L255.4 627.7 L257.8 627.5 L259.4 625.2 L262.4 624.1 L265.6 623.6 L268.7 623.2 L271.9 622.8 L274.1 621.0 L276.6 619.7 L276.4 617.1 L275.0 615.0 L273.4 611.9 L274.4 609.6 L275.0 607.2 L277.1 605.3 L279.7 604.1 L282.3 604.0 L284.4 602.5 L287.5 605.0 L289.3 607.5 L292.2 606.9 L294.5 604.5 L295.0 602.1 L295.7 599.8 L299.2 598.7 L302.7 598.1 L305.1 597.9 L307.4 598.7 L309.6 597.4 L311.0 595.2 L314.5 592.8 L318.0 593.4 L321.5 591.6 L325.0 589.3 L327.6 589.5 L330.0 588.5 L330.9 592.8 L331.3 595.8 L330.3 598.7 L329.7 601.4 L329.5 604.3 L328.5 606.9 L327.8 609.5 L326.2 611.6 L325.0 613.9 L323.9 615.9 L322.2 617.5 L321.5 619.8 L319.1 623.3 L319.7 625.7 L320.3 628.0 L320.1 630.4 L320.3 632.7 L320.4 635.4 L320.9 638.0 L320.9 641.1 L320.6 644.2 L321.7 647.2 L321.7 650.4 L322.2 652.8 L321.3 655.3 L321.7 657.7 L317.5 658.2 L313.3 657.7 L310.2 658.8 L308.6 661.9 L308.1 665.0 L306.7 667.2 L305.0 669.2 L303.7 671.2 L302.4 673.3 L301.9 675.9 L304.0 678.5 L306.0 680.1 L302.9 679.6 L298.8 680.6 L296.6 681.5 L294.6 682.7 L292.2 684.3 L289.4 684.8 L286.8 686.9 L285.7 690.0 L285.0 692.6 L285.7 695.2 L284.2 698.3 L282.0 699.1 L280.0 700.4 L277.7 701.3 L275.8 703.0 L272.7 704.6 L268.5 704.1 L265.4 702.0 L263.3 700.4 L264.4 699.4 L265.9 697.5 L266.5 695.2 L265.9 694.2 L265.6 691.5 L266.5 689.0 L266.1 686.7 L264.9 684.8 L265.8 682.7 L266.9 680.7 L267.5 678.5 L268.2 675.9 L269.0 673.3 L266.5 671.2 L266.9 668.1 L265.9 665.0 L266.0 662.4 L266.5 659.8 L263.3 657.2 L260.9 657.7 L258.6 658.8 L257.8 655.6 L257.1 652.5 L257.5 649.4 L258.1 646.2 L256.9 644.4 L255.0 643.1 L253.9 640.9 L253.9 638.4 L252.5 635.6 L250.0 633.8 L248.4 631.9 L248.0 629.5Z"/>
<path class="st" fill="#effdf8" d="M216.8 604.0 L219.1 605.6 L220.8 607.7 L221.9 610.3 L224.3 611.4 L226.2 613.2 L228.1 615.0 L230.6 616.1 L232.2 618.3 L234.4 619.7 L236.7 620.2 L238.4 622.0 L240.6 622.8 L242.8 624.5 L245.3 625.9 L246.5 627.8 L248.0 629.5 L248.4 631.9 L250.0 633.8 L252.5 635.6 L253.9 638.4 L253.9 640.9 L255.0 643.1 L256.9 644.4 L258.1 646.2 L257.5 649.4 L257.1 652.5 L257.8 655.6 L258.6 658.8 L260.9 657.7 L263.3 657.2 L266.5 659.8 L266.0 662.4 L265.9 665.0 L266.9 668.1 L266.5 671.2 L269.0 673.3 L268.2 675.9 L267.5 678.5 L266.9 680.7 L265.8 682.7 L264.9 684.8 L266.1 686.7 L266.5 689.0 L265.6 691.5 L265.9 694.2 L266.5 695.2 L265.9 697.5 L264.4 699.4 L263.3 700.4 L261.8 697.8 L259.2 696.2 L257.9 694.4 L257.0 692.3 L255.0 691.0 L253.7 688.7 L253.3 685.9 L251.6 683.8 L250.7 681.6 L249.7 679.5 L248.4 677.5 L248.0 674.9 L247.2 672.5 L247.1 669.9 L246.2 667.4 L245.3 665.0 L244.8 662.6 L243.4 660.4 L243.4 657.8 L242.2 655.6 L241.8 653.2 L240.6 650.9 L240.2 648.5 L239.1 646.2 L238.2 643.6 L236.9 641.0 L235.9 638.4 L235.4 635.7 L233.3 633.8 L232.3 631.4 L231.2 629.0 L230.1 627.1 L229.1 625.0 L227.4 623.4 L226.6 621.2 L225.2 619.5 L224.5 617.3 L222.9 615.6 L221.7 613.7 L220.3 611.9 L219.5 609.1 L217.5 606.8 L216.8 604.0Z"/>
<path class="st" fill="#ffffff" d="M338.0 415.0 L336.0 416.5 L334.5 418.6 L334.6 420.9 L335.5 423.1 L335.3 425.4 L336.5 428.1 L336.9 431.0 L337.0 433.9 L336.2 436.2 L334.8 438.2 L334.5 440.6 L335.3 443.2 L336.2 445.7 L337.1 448.2 L337.9 450.8 L339.9 453.1 L341.2 455.9 L342.9 458.4 L339.6 460.9 L336.8 461.8 L334.5 463.5 L333.8 466.0 L331.9 467.7 L331.9 470.3 L331.1 472.8 L332.8 476.2 L335.4 477.8 L337.9 479.6 L339.1 481.8 L340.3 484.0 L342.1 485.8 L343.2 488.1 L344.9 490.0 L346.2 492.1 L349.2 493.6 L352.5 494.2 L355.7 493.6 L359.0 494.0 L357.9 491.4 L357.3 488.7 L356.7 486.0 L359.1 485.1 L361.0 483.5 L363.1 482.2 L365.4 481.0 L367.0 479.0 L368.1 475.9 L369.5 473.0 L370.2 470.7 L370.2 468.3 L371.0 466.0 L370.2 463.7 L370.5 461.3 L370.5 459.0 L368.9 456.2 L368.5 453.0 L368.1 450.5 L366.5 448.5 L364.5 446.0 L368.5 445.0 L371.2 445.9 L374.0 446.5 L376.4 446.9 L378.7 447.8 L381.0 448.5 L381.2 446.0 L379.0 445.5 L377.0 444.5 L375.2 441.0 L375.0 438.5 L375.2 436.0 L375.3 433.6 L373.8 431.7 L373.5 429.4 L375.2 426.0 L376.4 423.8 L378.6 422.6 L381.4 421.8 L383.7 420.1 L386.0 420.3 L388.3 419.9 L390.5 419.2 L392.0 417.3 L393.9 415.9 L394.7 413.3 L395.5 410.8 L397.0 408.7 L397.1 405.9 L398.9 404.0 L398.8 401.4 L398.9 398.9 L400.3 396.2 L402.3 393.9 L404.4 392.8 L406.5 391.6 L408.5 390.3 L411.4 388.5 L412.6 386.3 L414.3 384.3 L414.8 381.7 L414.0 379.3 L413.1 376.9 L411.4 374.9 L410.3 372.0 L408.0 369.9 L408.5 367.4 L408.0 364.8 L406.1 363.3 L404.6 361.4 L402.6 360.1 L401.7 357.6 L399.6 356.3 L397.8 354.4 L395.8 352.7 L393.5 351.5 L391.4 352.9 L389.3 354.3 L387.7 356.3 L384.3 356.5 L382.2 357.6 L379.7 357.0 L377.5 358.0 L375.3 358.3 L373.0 358.0 L370.8 358.0 L368.5 357.8 L366.3 357.6 L364.0 358.0 L361.3 358.3 L358.9 357.2 L359.8 361.4 L360.6 364.8 L363.0 366.8 L365.7 368.2 L367.8 369.8 L369.9 371.6 L369.1 374.3 L367.4 376.6 L365.3 377.9 L363.6 379.6 L362.3 381.7 L360.6 384.3 L358.9 386.8 L356.2 388.2 L353.9 390.2 L351.3 391.9 L348.8 393.6 L346.9 396.0 L345.4 398.6 L343.5 400.0 L342.7 402.7 L341.2 405.1 L339.8 407.5 L339.6 410.2 L339.1 412.7 L338.0 415.0Z"/>
<path class="st" fill="#ffffff" d="M408.5 390.3 L406.5 391.6 L404.4 392.8 L402.3 393.9 L400.3 396.2 L398.9 398.9 L398.8 401.4 L398.9 404.0 L397.1 405.9 L397.0 408.7 L395.5 410.8 L394.7 413.3 L393.9 415.9 L392.0 417.3 L390.5 419.2 L388.3 419.9 L386.0 420.3 L383.7 420.1 L381.4 421.8 L378.6 422.6 L376.4 423.8 L375.2 426.0 L373.5 429.4 L373.8 431.7 L375.3 433.6 L375.2 436.0 L375.0 438.5 L375.2 441.0 L377.0 444.5 L379.0 445.5 L381.2 446.0 L381.0 448.5 L378.7 447.8 L376.4 446.9 L374.0 446.5 L371.2 445.9 L368.5 445.0 L364.5 446.0 L366.5 448.5 L368.1 450.5 L368.5 453.0 L368.9 456.2 L370.5 459.0 L370.5 461.3 L370.2 463.7 L371.0 466.0 L370.2 468.3 L370.2 470.7 L369.5 473.0 L368.1 475.9 L367.0 479.0 L365.4 481.0 L363.1 482.2 L361.0 483.5 L359.1 485.1 L356.7 486.0 L357.3 488.7 L357.9 491.4 L359.0 494.0 L360.8 494.2 L362.6 492.4 L364.7 491.0 L367.1 490.0 L370.1 488.6 L373.3 487.9 L374.1 484.7 L375.4 481.7 L379.6 480.6 L382.6 479.5 L385.8 479.6 L386.7 477.1 L389.1 475.8 L390.0 473.3 L392.4 471.6 L394.2 469.2 L396.1 467.7 L398.3 467.0 L400.4 466.0 L402.8 467.2 L404.6 469.2 L406.7 470.8 L408.8 472.3 L411.9 471.7 L415.0 472.3 L416.8 470.2 L419.1 468.8 L421.2 467.1 L423.3 466.5 L426.0 463.3 L428.5 461.5 L431.1 459.9 L433.2 458.0 L435.4 456.1 L437.9 454.8 L440.0 453.5 L442.6 452.9 L444.6 451.4 L446.9 451.4 L448.8 450.1 L450.8 448.9 L453.1 448.9 L455.6 448.7 L457.9 447.7 L459.9 446.3 L461.8 444.2 L462.7 441.4 L464.9 439.6 L466.4 436.9 L468.3 434.5 L469.0 431.7 L470.9 429.4 L469.6 426.8 L468.3 424.3 L468.8 421.8 L468.3 419.2 L470.4 416.9 L471.7 414.2 L474.0 412.5 L476.5 411.1 L478.6 410.2 L480.9 409.7 L483.0 408.5 L480.4 407.2 L478.4 405.9 L476.5 404.6 L474.2 403.0 L472.6 400.7 L470.5 398.6 L468.5 396.5 L466.6 396.4 L464.2 395.0 L461.6 393.9 L459.2 392.0 L456.5 390.5 L454.0 390.0 L451.4 389.6 L450.6 393.9 L449.7 396.1 L448.7 398.3 L448.0 400.6 L445.7 399.1 L442.9 398.9 L440.7 398.2 L438.4 398.0 L436.2 397.2 L433.7 396.3 L431.1 395.5 L429.6 393.2 L429.4 390.5 L427.1 390.9 L424.9 389.9 L422.6 390.5 L420.3 390.6 L418.2 391.9 L415.9 392.2 L413.5 391.3 L411.1 390.4 L408.5 390.3Z"/>
<path class="st" fill="#ffffff" d="M393.5 351.5 L394.5 347.9 L395.7 345.0 L397.9 342.8 L400.4 342.9 L402.9 342.8 L405.4 341.9 L408.0 341.1 L410.7 341.5 L413.1 342.8 L415.4 344.8 L418.2 346.2 L420.3 345.1 L422.7 345.2 L424.9 344.5 L427.2 344.0 L429.3 343.0 L431.7 342.8 L433.8 341.6 L436.1 341.2 L438.5 341.1 L442.3 339.7 L444.0 338.0 L445.7 336.3 L449.1 338.0 L452.5 339.7 L455.0 340.4 L457.5 341.4 L459.2 344.8 L462.6 343.1 L464.7 341.8 L466.0 339.7 L468.7 339.4 L471.1 338.0 L472.8 336.3 L474.5 334.6 L475.1 332.0 L476.2 329.6 L478.2 328.2 L479.6 326.2 L482.1 325.5 L484.6 324.5 L488.0 326.0 L489.1 328.1 L489.5 330.4 L490.8 334.3 L489.5 338.2 L489.9 340.9 L488.8 343.4 L486.9 347.3 L485.0 348.9 L484.3 351.2 L482.3 352.6 L480.4 353.9 L476.5 355.2 L474.7 356.7 L472.6 357.8 L468.6 359.1 L466.1 360.7 L463.4 361.7 L460.6 361.7 L458.2 363.0 L456.3 364.4 L454.3 365.6 L451.7 364.9 L450.4 366.9 L447.8 368.2 L447.2 372.1 L450.4 374.7 L452.0 377.0 L454.3 378.6 L456.6 380.2 L458.2 382.5 L460.2 384.4 L462.1 386.4 L463.9 387.9 L466.0 389.0 L467.3 392.9 L468.5 396.5 L466.6 396.4 L464.2 395.0 L461.6 393.9 L459.2 392.0 L456.5 390.5 L454.0 390.0 L451.4 389.6 L450.6 393.9 L449.7 396.1 L448.7 398.3 L448.0 400.6 L445.7 399.1 L442.9 398.9 L440.7 398.2 L438.4 398.0 L436.2 397.2 L433.7 396.3 L431.1 395.5 L429.6 393.2 L429.4 390.5 L427.1 390.9 L424.9 389.9 L422.6 390.5 L420.3 390.6 L418.2 391.9 L415.9 392.2 L413.5 391.3 L411.1 390.4 L408.5 390.3 L411.4 388.5 L412.6 386.3 L414.3 384.3 L414.8 381.7 L414.0 379.3 L413.1 376.9 L411.4 374.9 L410.3 372.0 L408.0 369.9 L408.5 367.4 L408.0 364.8 L406.1 363.3 L404.6 361.4 L402.6 360.1 L401.7 357.6 L399.6 356.3 L397.8 354.4 L395.8 352.7 L393.5 351.5Z"/>
<path class="st" fill="#ffffff" d="M406.3 275.1 L409.2 275.1 L411.8 273.7 L414.7 274.8 L416.9 277.1 L419.5 278.3 L422.0 279.6 L422.9 283.9 L424.7 285.3 L426.6 286.5 L428.8 287.2 L431.3 288.2 L433.9 288.9 L437.2 288.9 L439.7 289.9 L442.3 289.8 L445.7 292.3 L448.4 292.7 L450.8 294.0 L453.4 294.7 L455.9 294.0 L458.3 295.2 L460.9 295.7 L464.3 296.5 L466.6 296.7 L468.8 295.5 L471.1 295.7 L474.5 298.2 L476.9 299.3 L479.6 299.1 L482.1 298.6 L484.6 299.1 L487.1 299.3 L489.7 299.1 L493.9 299.1 L496.5 302.5 L495.2 304.6 L493.1 305.9 L491.8 308.0 L489.7 309.2 L488.9 312.6 L491.0 316.0 L489.5 320.0 L489.4 322.7 L488.2 325.2 L488.0 326.0 L484.6 324.5 L482.1 325.5 L479.6 326.2 L478.2 328.2 L476.2 329.6 L475.1 332.0 L474.5 334.6 L472.8 336.3 L471.1 338.0 L468.7 339.4 L466.0 339.7 L464.7 341.8 L462.6 343.1 L459.2 344.8 L457.5 341.4 L455.0 340.4 L452.5 339.7 L449.1 338.0 L445.7 336.3 L444.0 338.0 L442.3 339.7 L438.5 341.1 L436.1 341.2 L433.8 341.6 L431.7 342.8 L429.3 343.0 L427.2 344.0 L424.9 344.5 L422.7 345.2 L420.3 345.1 L418.2 346.2 L415.4 344.8 L413.1 342.8 L410.7 341.5 L408.0 341.1 L405.4 341.9 L402.9 342.8 L400.4 342.9 L397.9 342.8 L396.2 339.4 L395.8 336.7 L394.5 334.3 L394.9 331.8 L394.5 329.2 L395.8 327.1 L397.9 325.9 L400.7 324.7 L402.9 322.5 L405.4 321.9 L407.6 320.5 L409.7 319.1 L411.9 316.9 L414.8 315.7 L417.5 315.2 L419.9 314.0 L418.1 312.4 L416.5 310.6 L414.3 308.4 L411.4 307.2 L410.1 304.8 L409.7 302.2 L409.1 299.6 L408.0 297.1 L410.2 295.9 L412.6 294.9 L414.8 293.7 L416.5 292.0 L415.0 290.1 L413.1 288.6 L411.0 287.3 L409.7 285.2 L409.2 282.6 L408.0 280.2 L407.5 277.5 L406.3 275.1Z"/>
<path class="st" fill="#a6f5d8" d="M493.9 282.2 L496.5 283.0 L501.6 282.2 L510.0 283.0 L512.3 284.6 L513.4 287.2 L516.0 287.9 L518.5 288.9 L520.7 289.9 L523.0 290.0 L525.3 290.6 L527.4 292.1 L530.0 292.3 L531.2 295.0 L531.5 298.0 L530.9 300.7 L529.5 303.0 L527.7 304.8 L526.5 307.0 L523.4 307.8 L520.2 307.5 L520.0 304.8 L518.5 302.5 L515.1 300.8 L513.6 298.1 L511.7 295.7 L508.3 296.5 L504.9 295.7 L501.6 294.9 L499.9 297.4 L501.6 300.8 L498.9 302.3 L496.5 304.2 L494.8 307.5 L495.4 310.1 L494.8 312.6 L496.0 314.8 L498.2 316.0 L500.9 317.5 L503.3 319.4 L506.0 319.6 L508.3 321.1 L510.0 322.7 L511.6 324.5 L507.7 326.5 L503.8 327.8 L501.2 329.1 L498.6 331.7 L496.7 333.1 L494.7 334.3 L492.7 338.2 L493.4 340.8 L495.4 342.0 L497.3 343.4 L499.8 344.9 L502.5 346.0 L505.4 346.3 L507.7 348.0 L507.7 349.9 L506.4 353.9 L505.1 356.3 L505.1 359.1 L506.0 361.6 L505.8 364.3 L507.7 368.2 L509.0 372.1 L511.0 374.7 L511.6 378.6 L511.1 381.2 L511.6 383.8 L511.0 387.7 L511.6 391.6 L511.2 394.9 L510.1 396.6 L508.4 396.6 L506.1 397.2 L506.1 400.2 L504.9 402.9 L502.1 404.6 L498.6 406.9 L497.5 410.4 L494.0 408.7 L493.5 405.2 L494.6 402.9 L496.3 400.1 L495.2 399.5 L493.5 401.8 L492.3 404.1 L491.3 406.2 L489.5 407.5 L487.6 408.7 L485.4 409.2 L483.0 408.5 L480.4 407.2 L478.4 405.9 L476.5 404.6 L474.2 403.0 L472.6 400.7 L470.5 398.6 L468.5 396.5 L467.3 392.9 L466.0 389.0 L463.9 387.9 L462.1 386.4 L460.2 384.4 L458.2 382.5 L456.6 380.2 L454.3 378.6 L452.0 377.0 L450.4 374.7 L447.2 372.1 L447.8 368.2 L450.4 366.9 L451.7 364.9 L454.3 365.6 L456.3 364.4 L458.2 363.0 L460.6 361.7 L463.4 361.7 L466.1 360.7 L468.6 359.1 L472.6 357.8 L474.7 356.7 L476.5 355.2 L480.4 353.9 L482.3 352.6 L484.3 351.2 L485.0 348.9 L486.9 347.3 L488.8 343.4 L489.9 340.9 L489.5 338.2 L490.8 334.3 L489.5 330.4 L489.1 328.1 L488.0 326.0 L488.2 325.2 L489.4 322.7 L489.5 320.0 L491.0 316.0 L488.9 312.6 L489.7 309.2 L491.8 308.0 L493.1 305.9 L495.2 304.6 L496.5 302.5 L493.9 299.1 L495.5 290.0 L493.9 282.2Z"/>
<path class="st" fill="#ffffff" d="M493.9 282.2 L493.1 275.4 L494.8 268.6 L495.6 263.5 L499.9 261.8 L504.9 260.2 L509.2 260.2 L510.9 266.9 L510.0 273.7 L510.9 278.8 L510.0 283.0 L501.6 282.2 L496.5 283.0 L493.9 282.2Z"/>
<path class="st" fill="#7defca" d="M263.4 240.3 L265.7 241.0 L268.0 245.8 L268.3 249.7 L266.0 250.4 L265.0 251.7 L263.4 250.4 L259.5 249.1 L258.6 247.5 L260.2 245.2 L260.8 242.6 L262.1 241.3Z"/>
<path class="st" fill="#ffffff" d="M530.0 292.3 L531.1 292.1 L532.9 290.5 L535.0 289.5 L537.7 289.8 L539.5 288.2 L543.4 287.6 L545.6 288.6 L547.3 290.2 L549.5 290.4 L551.7 289.6 L553.9 290.2 L556.5 289.9 L559.1 289.5 L562.4 289.8 L565.6 289.5 L567.9 289.6 L570.0 289.0 L572.1 288.2 L574.7 286.9 L577.9 287.6 L578.1 285.2 L577.3 283.0 L576.9 279.3 L576.9 277.0 L577.3 274.8 L576.9 272.5 L574.5 271.4 L571.8 270.9 L569.7 270.0 L567.6 269.2 L569.3 265.8 L572.3 265.9 L575.2 266.6 L577.4 265.6 L579.8 265.9 L582.0 264.9 L584.4 264.4 L586.7 263.7 L588.8 262.4 L591.3 259.0 L593.2 257.4 L595.5 256.5 L598.4 255.8 L600.6 253.9 L601.5 251.2 L603.2 248.9 L605.4 247.8 L607.4 246.3 L609.7 246.1 L612.0 246.4 L614.2 245.5 L616.2 244.1 L617.5 242.1 L619.5 240.1 L621.2 237.8 L622.6 235.3 L624.8 233.0 L627.7 231.9 L631.1 230.2 L634.5 231.9 L636.8 232.0 L639.0 233.1 L641.2 233.6 L643.7 233.9 L646.0 234.7 L648.0 236.2 L649.9 234.2 L651.4 231.9 L653.6 229.7 L656.5 228.5 L658.9 227.2 L661.6 226.8 L662.8 228.9 L664.9 230.2 L666.6 231.9 L664.9 235.3 L666.9 236.7 L668.3 238.7 L670.1 240.3 L671.7 242.1 L670.0 245.5 L668.3 248.9 L666.6 251.4 L669.4 251.9 L672.4 251.9 L675.1 253.1 L677.5 253.3 L679.8 253.5 L681.9 254.8 L684.5 255.3 L686.1 257.6 L688.6 258.2 L689.5 262.4 L687.3 264.0 L685.3 265.8 L683.3 267.2 L681.9 269.2 L680.9 271.6 L680.2 274.2 L681.5 276.6 L681.9 279.3 L684.4 282.7 L681.3 282.4 L678.5 281.0 L676.8 277.6 L674.3 276.6 L671.7 276.8 L669.4 277.4 L667.2 277.9 L664.9 278.5 L662.5 280.4 L659.9 281.9 L657.6 283.2 L655.7 285.2 L653.1 286.1 L650.7 286.9 L648.5 288.3 L646.3 289.5 L642.9 290.3 L642.9 292.9 L643.0 295.3 L641.5 297.3 L641.2 299.6 L642.3 301.7 L642.5 304.1 L642.9 306.4 L642.6 309.1 L641.2 311.5 L639.9 314.3 L637.9 316.6 L635.5 318.6 L632.8 320.0 L631.1 320.8 L632.0 322.9 L633.0 325.0 L634.2 327.4 L634.9 330.0 L633.3 333.4 L632.3 335.7 L631.5 338.2 L629.9 340.2 L628.2 342.1 L627.5 344.6 L626.5 346.9 L625.5 349.2 L624.0 351.3 L623.1 353.7 L622.7 356.4 L621.4 358.8 L618.6 358.1 L616.3 356.2 L614.1 356.0 L611.8 355.9 L609.6 355.4 L607.0 354.7 L604.5 353.7 L604.4 356.0 L605.3 358.2 L605.3 360.5 L606.0 363.3 L604.9 366.1 L605.3 368.9 L604.7 371.3 L603.5 373.4 L602.8 375.7 L600.2 377.4 L599.7 379.6 L599.8 382.0 L599.4 384.2 L600.8 386.5 L601.1 389.2 L600.5 391.7 L600.2 394.3 L597.7 397.7 L594.3 399.4 L590.9 397.7 L589.2 399.4 L588.4 397.2 L588.4 394.9 L588.4 392.6 L588.6 390.3 L588.4 388.1 L587.5 385.9 L586.5 383.1 L587.0 380.1 L585.9 377.4 L585.5 374.5 L585.3 371.6 L584.2 368.9 L582.9 366.2 L582.7 363.2 L581.6 360.5 L579.1 362.2 L574.9 363.0 L574.0 367.2 L572.9 369.4 L571.9 371.6 L571.5 374.0 L570.6 378.2 L567.2 379.1 L564.7 375.7 L562.2 374.0 L561.7 371.3 L560.5 368.9 L559.9 366.7 L558.9 364.6 L558.8 362.2 L559.2 359.1 L560.5 356.2 L563.9 353.7 L567.2 352.0 L569.7 351.0 L572.3 350.3 L574.1 348.7 L575.7 346.9 L578.2 346.5 L580.8 346.9 L580.8 343.5 L581.2 340.3 L581.9 337.7 L582.5 335.1 L585.1 333.8 L583.8 330.5 L581.7 329.8 L579.5 329.6 L577.3 329.2 L574.8 328.4 L572.1 328.6 L569.9 328.4 L567.9 327.1 L565.6 327.3 L562.4 326.9 L559.1 327.3 L555.9 327.5 L552.6 327.3 L550.4 326.9 L548.2 327.5 L546.0 327.3 L543.9 326.5 L541.6 326.5 L539.5 326.0 L537.4 325.0 L535.3 324.6 L533.0 324.7 L531.1 322.1 L530.4 318.2 L533.0 318.2 L531.7 314.3 L530.4 311.9 L530.4 309.1 L529.7 306.8 L529.8 304.5 L531.0 302.5 L531.1 300.2 L531.5 298.0 L530.8 295.1 L530.0 292.3Z"/>
<path class="ln" d="M577.9 287.6 L580.8 287.0 L583.7 286.1 L586.1 286.3 L588.1 284.5 L590.5 284.4 L592.9 284.4 L594.8 286.0 L597.2 286.1 L599.5 285.7 L601.8 286.3 L604.0 286.9 L606.4 286.9 L608.6 286.1 L610.8 285.2 L614.2 282.7 L615.8 280.9 L617.5 279.3 L619.8 277.6 L621.9 275.7 L624.3 274.2 L626.7 274.0 L628.6 272.8 L630.8 272.1 L632.8 270.9 L634.9 270.0 L637.1 269.4 L639.0 268.0 L641.2 267.5 L643.3 266.2 L645.8 265.9 L648.0 264.9 L650.3 264.5 L652.6 264.2 L654.8 263.2 L657.3 262.5 L659.9 263.2 L658.0 265.2 L656.5 267.5 L657.5 269.9 L657.3 272.5 L659.1 274.3 L659.9 276.8 L657.6 278.3 L654.8 278.5 L652.5 280.0 L649.7 280.2 L647.1 281.7 L644.6 283.5 L642.9 286.1 L642.9 290.3"/>
<path class="ln" d="M642.9 286.1 L640.6 287.6 L637.9 287.8 L635.6 289.8 L632.8 291.2 L630.0 292.6 L627.7 294.6 L626.2 296.5 L624.3 297.9 L622.6 300.4 L620.9 303.0 L619.5 305.7 L617.5 308.1 L614.7 309.4 L612.5 311.5 L611.1 313.5 L609.4 315.2 L607.4 316.6 L606.0 318.6 L604.0 319.9 L604.1 322.3 L605.1 324.4 L605.7 326.7 L603.9 328.7 L603.0 331.0 L602.3 333.5 L601.1 335.8 L600.1 338.1 L598.9 340.3 L598.9 343.3 L597.7 346.1 L597.4 349.1 L596.9 352.0 L599.4 352.9 L602.0 353.2 L604.5 353.7"/>
<path class="ln" d="M605.5 322.0 L607.7 320.8 L610.2 320.9 L612.5 320.0 L614.6 319.0 L616.8 318.4 L619.2 318.3 L622.0 318.8 L624.9 318.8 L627.7 319.1 L631.1 320.8"/>
<path class="ln" d="M581.6 360.5 L582.3 357.7 L582.1 354.8 L582.5 352.0 L581.6 348.6 L585.9 348.6 L588.4 346.8 L590.9 345.2 L594.3 344.4 L597.7 346.1"/>
<path class="ln" d="M531.7 314.3 L533.0 310.4 L535.5 309.2 L538.2 309.1 L540.8 308.5 L543.4 308.4 L545.5 309.2 L547.9 308.6 L549.9 309.7 L552.1 310.4 L554.3 310.5 L556.5 311.0 L560.4 313.0 L562.4 311.1 L564.3 309.1 L568.2 307.8 L572.1 306.5 L574.8 306.6 L577.3 307.8 L580.5 308.4 L580.7 311.4 L579.9 314.3 L583.8 315.6 L586.4 318.2 L587.7 322.1 L589.6 323.4 L591.6 324.7 L590.3 327.3 L587.7 329.9 L583.8 330.5"/>
<path class="ln" d="M580.8 343.5 L580.5 346.2 L581.6 348.6"/>
<path class="st" fill="#fff" d="M594.0 589.6 L597.7 587.2 L598.6 592.4 L597.7 597.1 L595.8 600.3 L592.1 601.3 L593.0 596.1 L593.5 591.4Z"/>
<path class="st" fill="#fff" d="M592.1 601.8 L595.8 601.3 L597.2 605.5 L596.8 610.2 L594.9 613.9 L592.1 614.4 L590.7 611.1 L590.7 606.4 L591.1 602.7Z"/>
<path class="st" fill="#fff" d="M590.2 616.3 L594.0 615.3 L593.0 620.5 L592.5 628.0 L591.1 631.8 L589.2 634.6 L588.3 632.7 L589.2 629.9 L587.4 625.2 L586.9 623.3 L588.8 620.5 L589.2 617.7Z"/>
<path class="st" fill="#fff" d="M611.4 724.2 L615.1 722.4 L616.4 724.7 L616.9 728.3 L616.4 731.1 L615.1 732.9 L613.7 731.1 L612.3 728.3 L611.0 725.6Z"/>
<ellipse class="st" fill="#fff" cx="586.4" cy="648.9" rx="1.9" ry="3.5" transform="rotate(20 586.4 648.9)"/>
<path class="ln" d="M596.3 620.5 L598.2 622.8"/>
<path class="ln" d="M607.3 704.4 L608.6 701.2"/>
<circle class="st" fill="#fff" cx="592.5" cy="681.4" r="1.2"/>
<circle class="st" fill="#fff" cx="604.9" cy="707.6" r="1.1"/>
<circle class="st" fill="#fff" cx="611.4" cy="720.1" r="1.2"/>
<circle class="st" fill="#fff" cx="152.0" cy="622.5" r="0.9"/>
<circle class="st" fill="#fff" cx="199.4" cy="636.9" r="0.9"/>
<circle class="st" fill="#fff" cx="178.8" cy="441.5" r="1.6"/>
<path class="st" fill="#50e0be" d="M80.5 357 L83 356.8 L82.2 359.5 L80.8 362.5 L79 364.8 L77 363 L76.8 359.8 Z"/>
<path fill="#a6f5d8" stroke="#2b2b2b" stroke-width="0.9" d="M509.5 397.5 L512.5 397 L514.8 400 L513.8 403.5 L511.5 404.5 L510.2 402 Z"/>
<path fill="none" stroke="#2b2b2b" stroke-width="0.9" d="M510.3 388.5 L513.2 389 M510.3 390.5 L513.2 391.3"/>
<path fill="#333" d="M508.7 409 L509.4 407 L510 409 Z M514.2 409 L514.8 407 L515.5 409 Z"/>
<rect x="316.5" y="621.5" width="3.5" height="4" fill="#333"/>
<text transform="translate(253.08 94.80) scale(0.9329 1)" font-size="9.59" fill="#222">Ladakh</text>
<text transform="translate(261.92 110.77) scale(1.1134 1)" font-size="13.10" fill="#222">0</text>
<text transform="translate(203.87 119.80) scale(0.9835 1)" font-size="11.92" fill="#222">J&amp;K</text>
<text transform="translate(211.59 133.27) scale(1.0138 1)" font-size="12.54" fill="#222">0</text>
<text transform="translate(247.28 161.60) scale(1.0184 1)" font-size="8.87" fill="#222">Himachal</text>
<text transform="translate(262.17 171.82) scale(1.1500 1)" font-size="8.31" fill="#222">0</text>
<text transform="translate(257.08 184.30) scale(0.9781 1)" font-size="4.51" fill="#999">Chandigarh</text>
<text transform="translate(267.65 189.26) scale(0.9509 1)" font-size="3.94" fill="#999">0</text>
<text transform="translate(216.79 191.80) scale(0.9679 1)" font-size="9.16" fill="#222">Punjab</text>
<text transform="translate(227.20 204.81) scale(1.0758 1)" font-size="9.30" fill="#222">3</text>
<text transform="translate(283.16 204.20) scale(1.0265 1)" font-size="7.85" fill="#222">Uttarakhand</text>
<text transform="translate(303.81 217.71) scale(1.1397 1)" font-size="8.59" fill="#222">0</text>
<text transform="translate(230.30 230.70) scale(0.9504 1)" font-size="7.85" fill="#222">Haryana</text>
<text transform="translate(243.89 243.21) scale(1.1500 1)" font-size="8.87" fill="#222">6</text>
<text transform="translate(273.77 239.40) scale(0.9252 1)" font-size="8.58" fill="#222">Delhi</text>
<text transform="translate(286.70 251.01) scale(1.1270 1)" font-size="8.87" fill="#222">8</text>
<text transform="translate(163.17 293.90) scale(1.0212 1)" font-size="12.64" fill="#222">Rajasthan</text>
<text transform="translate(187.32 312.50) scale(1.1295 1)" font-size="13.86" fill="#222">2</text>
<text transform="translate(305.40 280.50) scale(1.0067 1)" font-size="9.88" fill="#222">Uttar Pradesh</text>
<text transform="translate(333.70 299.60) scale(1.0933 1)" font-size="14.71" fill="#222">2</text>
<text transform="translate(131.22 371.90) scale(0.9599 1)" font-size="10.03" fill="#222">Gujarat</text>
<text transform="translate(141.03 387.50) scale(0.9347 1)" font-size="11.57" fill="#222">12</text>
<text transform="translate(241.33 372.90) scale(0.9901 1)" font-size="12.21" fill="#222">Madhya Pradesh</text>
<text transform="translate(281.60 390.90) scale(0.9661 1)" font-size="14.20" fill="#222">1</text>
<text transform="translate(188.84 461.90) scale(0.9220 1)" font-size="13.08" fill="#f4f7f9">Maharashtra</text>
<text transform="translate(213.06 480.46) scale(1.0051 1)" font-size="13.80" fill="#f4f7f9">70</text>
<text transform="translate(284.03 490.00) scale(0.9572 1)" font-size="9.08" fill="#222">Telangana</text>
<text transform="translate(295.75 507.58) scale(0.9727 1)" font-size="12.25" fill="#222">10</text>
<text transform="translate(211.00 567.10) scale(0.8962 1)" font-size="9.74" fill="#0b2a3c">Karnataka</text>
<text transform="translate(226.69 581.99) scale(1.0742 1)" font-size="11.41" fill="#0b2a3c">20</text>
<text transform="translate(286.25 551.50) scale(0.9401 1)" font-size="9.08" fill="#222">Andhra</text>
<text transform="translate(295.20 566.39) scale(1.1500 1)" font-size="10.91" fill="#222">3</text>
<text transform="translate(172.69 555.80) scale(0.9472 1)" font-size="8.72" fill="#222">Goa</text>
<text transform="translate(179.43 568.80) scale(0.9432 1)" font-size="9.72" fill="#222">0</text>
<text transform="translate(135.28 445.80) scale(1.0200 1)" font-size="6.39" fill="#222">DNHDD</text>
<text transform="translate(145.85 460.61) scale(1.0809 1)" font-size="9.15" fill="#222">0</text>
<text transform="translate(129.89 640.00) scale(0.9734 1)" font-size="9.08" fill="#222">Lakshadweep</text>
<text transform="translate(151.92 658.27) scale(1.0858 1)" font-size="13.24" fill="#222">0</text>
<text transform="translate(208.82 661.90) scale(1.0047 1)" font-size="8.43" fill="#222">Kerala</text>
<text transform="translate(219.13 678.00) scale(0.9669 1)" font-size="11.30" fill="#222">1</text>
<text transform="translate(268.33 639.60) scale(1.0117 1)" font-size="8.58" fill="#222">Tamil Nadu</text>
<text transform="translate(283.11 654.19) scale(0.9845 1)" font-size="11.29" fill="#222">15</text>
<text transform="translate(333.28 628.30) scale(1.0991 1)" font-size="8.14" fill="#222">Puducherry</text>
<text transform="translate(353.43 639.90) scale(0.9298 1)" font-size="9.86" fill="#222">0</text>
<text transform="translate(426.13 312.10) scale(1.0028 1)" font-size="12.06" fill="#222">Bihar</text>
<text transform="translate(439.82 329.66) scale(1.0415 1)" font-size="13.80" fill="#222">0</text>
<text transform="translate(410.64 360.00) scale(1.0521 1)" font-size="7.56" fill="#222">Jharkhand</text>
<text transform="translate(433.37 387.01) scale(1.0045 1)" font-size="9.44" fill="#222">0</text>
<text transform="translate(472.88 372.30) scale(1.0932 1)" font-size="8.29" fill="#222">Bengal</text>
<text transform="translate(483.16 386.90) scale(1.1064 1)" font-size="10.00" fill="#222">5</text>
<text transform="translate(355.82 409.20) scale(0.9378 1)" font-size="9.16" fill="#222">CG</text>
<text transform="translate(356.05 421.62) scale(1.1500 1)" font-size="7.68" fill="#222">0</text>
<text transform="translate(404.12 428.75) scale(0.9380 1)" font-size="10.32" fill="#222">Odisha</text>
<text transform="translate(415.08 443.87) scale(1.0354 1)" font-size="12.68" fill="#222">0</text>
<text transform="translate(490.37 240.30) scale(1.0636 1)" font-size="8.14" fill="#222">Sikkim</text>
<text transform="translate(499.87 249.92) scale(1.1500 1)" font-size="8.17" fill="#222">0</text>
<text transform="translate(544.70 301.25) scale(0.9945 1)" font-size="8.58" fill="#222">Assam</text>
<text transform="translate(593.99 300.21) scale(1.1151 1)" font-size="9.15" fill="#222">0</text>
<text transform="translate(537.38 323.10) scale(1.0233 1)" font-size="7.56" fill="#222">Meghalaya</text>
<text transform="translate(546.64 342.11) scale(1.1500 1)" font-size="8.87" fill="#222">0</text>
<text transform="translate(616.90 256.40) scale(1.1129 1)" font-size="7.99" fill="#222">Arunachal</text>
<text transform="translate(604.13 270.12) scale(1.1031 1)" font-size="8.31" fill="#222">0</text>
<text transform="translate(647.68 308.75) scale(0.9669 1)" font-size="7.99" fill="#222">Nagaland</text>
<text transform="translate(657.65 321.52) scale(1.0711 1)" font-size="8.17" fill="#222">0</text>
<text transform="translate(637.06 345.50) scale(0.9986 1)" font-size="7.99" fill="#222">Manipur</text>
<text transform="translate(649.02 357.41) scale(1.0974 1)" font-size="8.73" fill="#222">0</text>
<text transform="translate(548.45 390.90) scale(1.0150 1)" font-size="7.41" fill="#222">Tripura</text>
<text transform="translate(559.24 404.02) scale(1.0780 1)" font-size="8.31" fill="#222">0</text>
<text transform="translate(578.38 417.20) scale(1.0348 1)" font-size="8.72" fill="#222">Mizoram</text>
<text transform="translate(593.67 429.32) scale(1.1500 1)" font-size="8.17" fill="#222">0</text>
<text transform="translate(580.90 660.30) scale(1.1139 1)" font-size="7.85" fill="#222">Andaman and Nicobar Islands</text>
<text transform="translate(631.96 672.88) scale(1.1311 1)" font-size="11.97" fill="#222">0</text>
<rect x="409.2" y="130.5" width="307.6" height="21.5" rx="10.75" fill="url(#g)" stroke="#eee" stroke-width="0.6"/>
<text transform="translate(396.77 80.70) scale(0.9144 1)" font-size="22.67" font-weight="bold" font-style="normal" fill="#0b2649" stroke="#0b2649" stroke-width="0.35">Number of Mid-Cap Companies</text>
<text transform="translate(414.12 110.70) scale(0.9401 1)" font-size="22.53" font-weight="bold" font-style="normal" fill="#0b2649" stroke="#0b2649" stroke-width="0.35">in India State wise 2025-26.</text>
<text transform="translate(27.80 124.70) scale(0.9237 1)" font-size="14.10" font-weight="normal" font-style="italic" fill="#1f426b"><tspan font-weight="bold" fill="#0f2d52">Research by:</tspan> India Data</text>
<text transform="translate(27.17 144.40) scale(0.9259 1)" font-size="14.10" font-weight="normal" font-style="italic" fill="#1f426b">Report (IDR).</text>
<text transform="translate(27.80 163.90) scale(0.9632 1)" font-size="14.10" font-weight="normal" font-style="italic" fill="#1f426b"><tspan font-weight="bold" fill="#0f2d52">Source:</tspan> bseindia.com &amp;</text>
<text transform="translate(27.80 183.50) scale(0.9809 1)" font-size="14.10" font-weight="normal" font-style="italic" fill="#1f426b">screener.in</text>
<text transform="translate(409.30 169.30) scale(1.0000 1)" font-size="12.64" font-weight="bold" font-style="normal" fill="#111">0</text>
<text transform="translate(502.55 169.30) scale(1.0000 1)" font-size="12.64" font-weight="bold" font-style="normal" fill="#111">23</text>
<text transform="translate(602.50 169.30) scale(1.0000 1)" font-size="12.64" font-weight="bold" font-style="normal" fill="#111">47</text>
<text transform="translate(701.90 169.30) scale(1.0000 1)" font-size="12.64" font-weight="bold" font-style="normal" fill="#111">70</text>
<text transform="translate(502.30 474.90) scale(0.9637 1)" font-size="17.15" font-weight="normal" font-style="normal" fill="#15375f">Total Mid-Cap companies</text>
<text transform="translate(551.00 582.80) scale(0.9327 1)" font-size="109.30" font-weight="bold" font-style="normal" fill="#063060">5</text>
<text transform="translate(611.30 582.80) scale(0.9345 1)" font-size="109.30" font-weight="bold" font-style="normal" fill="#063060">5</text>
<path fill="#063060" d="M497.2 519.0 L528.5 507.9 L529.8 507.9 L529.8 583.3 L515.2 583.3 L515.2 525.6 L497.2 530.9Z"/>
<text transform="translate(368.48 710.40) scale(1.0084 1)" font-size="19.19" font-weight="normal" font-style="normal" fill="#1b3a5e">Design by</text>
<circle cx="217.6" cy="737.5" r="22.9" fill="#04305f"/>
<text transform="translate(198.92 744.90) scale(0.9914 1)" font-size="22.09" font-weight="bold" font-style="normal" fill="#ffffff">IDR</text>
<text transform="translate(257.22 753.75) scale(0.8950 1)" font-size="41.13" font-weight="bold" font-style="normal" fill="#052a52" stroke="#052a52" stroke-width="0.7">India Data Report</text>
<rect x="767" y="89.7" width="1" height="386" fill="#ededed"/><rect x="767" y="557.7" width="1" height="211" fill="#ededed"/>
</svg>
</body></html>
